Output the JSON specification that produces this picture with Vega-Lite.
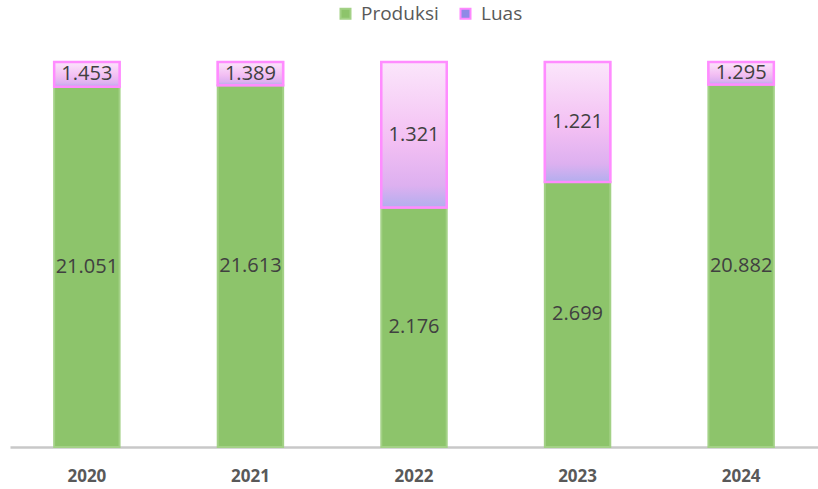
{
  "$schema": "https://vega.github.io/schema/vega-lite/v6.json",
  "width": 808,
  "height": 385,
  "autosize": {"type": "none"},
  "padding": {"left": 10, "top": 62, "right": 0, "bottom": 42},
  "background": "white",
  "config": {
    "view": {"stroke": null},
    "locale": {"number": {"decimal": ",", "thousands": ".", "grouping": [3], "currency": ["Rp", ""]}},
    "font": "Open Sans"
  },
  "data": {
    "values": [
      {"tahun": "2020", "seri": "Produksi", "urut": 0, "nilai": 21051},
      {"tahun": "2020", "seri": "Luas", "urut": 1, "nilai": 1453},
      {"tahun": "2021", "seri": "Produksi", "urut": 0, "nilai": 21613},
      {"tahun": "2021", "seri": "Luas", "urut": 1, "nilai": 1389},
      {"tahun": "2022", "seri": "Produksi", "urut": 0, "nilai": 2176},
      {"tahun": "2022", "seri": "Luas", "urut": 1, "nilai": 1321},
      {"tahun": "2023", "seri": "Produksi", "urut": 0, "nilai": 2699},
      {"tahun": "2023", "seri": "Luas", "urut": 1, "nilai": 1221},
      {"tahun": "2024", "seri": "Produksi", "urut": 0, "nilai": 20882},
      {"tahun": "2024", "seri": "Luas", "urut": 1, "nilai": 1295}
    ]
  },
  "transform": [
    {"stack": "nilai", "groupby": ["tahun"], "sort": [{"field": "urut", "order": "ascending"}], "offset": "normalize", "as": ["y0", "y1"]},
    {"calculate": "(datum.y0 + datum.y1) / 2", "as": "ymid"}
  ],
  "encoding": {
    "x": {
      "field": "tahun", "type": "nominal", "title": null,
      "scale": {"paddingInner": 0.6, "paddingOuter": 0.27},
      "axis": {"labelAngle": 0, "labelFontWeight": "bold", "labelFontSize": 17, "labelColor": "#595959", "labelPadding": 21, "ticks": false, "domainColor": "#C8C8C8", "domainWidth": 2.5, "grid": false}
    }
  },
  "layer": [
    {
      "mark": {"type": "bar", "strokeWidth": 2},
      "encoding": {
        "y": {"field": "y0", "type": "quantitative", "scale": {"domain": [0, 1]}, "axis": null},
        "y2": {"field": "y1"},
        "color": {
          "field": "seri", "type": "nominal", "sort": ["Produksi", "Luas"],
          "scale": {"domain": ["Produksi", "Luas"], "range": ["#8DC46B", "#8E8AE6"]},
          "legend": {"title": null, "orient": "none", "legendX": 326, "legendY": -58, "direction": "horizontal", "symbolType": "square", "symbolSize": 100, "symbolStrokeWidth": 2, "labelFontSize": 19, "labelColor": "#595959", "labelFont": "Open Sans", "columnPadding": 17, "labelOffset": 6}
        },
        "stroke": {
          "field": "seri", "type": "nominal",
          "scale": {"domain": ["Produksi", "Luas"], "range": ["#A3D186", "#FF88FF"]}
        }
      }
    },
    {
      "transform": [{"filter": "datum.seri == 'Luas'"}],
      "mark": {
        "type": "bar", "stroke": "#FF8CFF", "strokeWidth": 2.5,
        "fill": {"gradient": "linear", "x1": 0, "y1": 0, "x2": 0, "y2": 1, "stops": [
          {"offset": 0, "color": "#FBE6FB"},
          {"offset": 0.55, "color": "#F3BFF3"},
          {"offset": 0.85, "color": "#DDB0F0"},
          {"offset": 1, "color": "#B3AEEE"}
        ]}
      },
      "encoding": {
        "y": {"field": "y0", "type": "quantitative", "scale": {"domain": [0, 1]}},
        "y2": {"field": "y1"}
      }
    },
    {
      "mark": {"type": "text", "fontSize": 20, "color": "#404040", "baseline": "middle"},
      "encoding": {
        "y": {"field": "ymid", "type": "quantitative", "scale": {"domain": [0, 1]}},
        "text": {"field": "nilai", "type": "quantitative", "format": ",d"}
      }
    }
  ]
}
